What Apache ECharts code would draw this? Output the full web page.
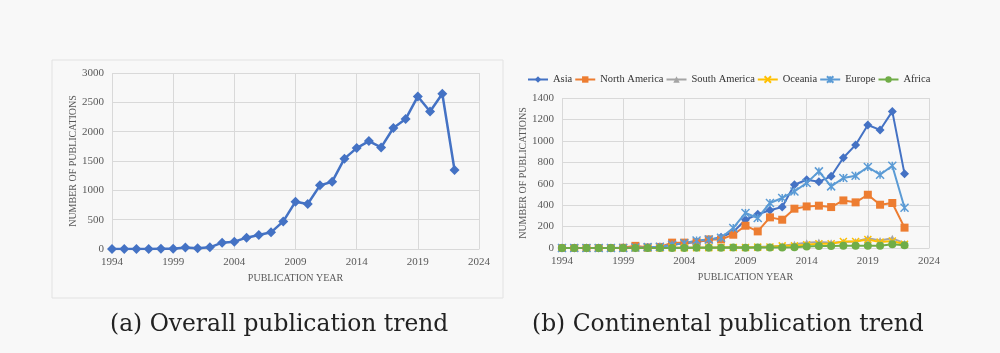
<!DOCTYPE html>
<html>
<head>
<meta charset="utf-8">
<script src="https://cdn.jsdelivr.net/npm/echarts@6/dist/echarts.min.js"></script>
<style>
  html, body { margin: 0; padding: 0; background: #f8f8f8; }
  #chart { width: 1000px; height: 353px; }
</style>
</head>
<body>
<div id="chart"></div>
<script>
// year categories (axis runs to 2024, data ends 2022)
const years = ['1994','1995','1996','1997','1998','1999','2000','2001','2002','2003',
  '2004','2005','2006','2007','2008','2009','2010','2011','2012','2013',
  '2014','2015','2016','2017','2018','2019','2020','2021','2022','2023','2024']

// (a) overall publications per year
const totals = [0,0,0,0,3,5,25,12,28,108,125,193,240,284,470,806,767,1085,1147,1540,1720,1840,1732,2062,2215,2600,2345,2647,1346]

// (b) publications per continent
const asia = [0,0,0,0,0,2,3,5,8,30,45,55,75,100,150,264,315,352,382,590,637,619,669,842,962,1148,1102,1275,692]
const northAmerica = [0,0,0,0,0,2,20,5,10,50,50,55,80,80,124,208,155,286,264,367,388,395,382,444,426,497,404,420,190]
const southAmerica = [0,0,0,0,0,0,0,0,2,3,5,5,5,8,10,8,10,15,20,35,50,55,50,55,60,90,70,90,45]
const oceania = [0,0,0,0,0,0,0,0,0,2,2,3,3,5,5,5,8,10,20,20,30,40,40,60,60,80,55,65,35]
const europe = [0,0,0,0,0,0,5,8,12,30,45,70,80,95,187,327,280,420,467,528,607,715,575,653,675,756,684,768,375]
const africa = [0,0,0,0,0,0,0,0,0,0,0,2,2,3,5,3,5,5,5,8,15,18,18,20,22,22,22,35,25]

const captions = ['(a) Overall publication trend', '(b) Continental publication trend']

const font = 'Liberation Serif'
const captionFont = 'DejaVu Serif'
const gridColor = '#d9d9d9'
const labelColor = '#595959'

const xAxisBase = (gridIndex) => ({
  type: 'category',
  gridIndex,
  data: years,
  boundaryGap: false,
  name: 'PUBLICATION YEAR',
  nameLocation: 'middle',
  nameGap: 24,
  nameTextStyle: { fontFamily: font, fontSize: 10, color: labelColor },
  axisLine: { lineStyle: { color: gridColor } },
  axisTick: { show: false, interval: 4 },
  axisLabel: { interval: 4, fontFamily: font, fontSize: 11, color: labelColor, margin: 8 },
  splitLine: { show: true, interval: 4, lineStyle: { color: gridColor } }
})

const yAxisBase = (gridIndex, max, interval, gap) => ({
  type: 'value',
  gridIndex,
  min: 0,
  max,
  interval,
  name: 'NUMBER OF PUBLICATIONS',
  nameLocation: 'middle',
  nameGap: gap,
  nameTextStyle: { fontFamily: font, fontSize: 10, color: labelColor },
  axisLine: { show: false },
  axisTick: { show: false },
  axisLabel: { fontFamily: font, fontSize: 11, color: labelColor, margin: 8, formatter: v => String(v) },
  splitLine: { lineStyle: { color: gridColor } }
})

// small helper for the continental series
const contSeries = (name, data, color, symbol, size, stroked) => ({
  name,
  type: 'line',
  xAxisIndex: 1,
  yAxisIndex: 1,
  data,
  symbol,
  symbolSize: size,
  showAllSymbol: true,
  lineStyle: { color, width: 2 },
  itemStyle: stroked
    ? { color, borderColor: color, borderWidth: 1.5 }
    : { color },
  emphasis: { disabled: true }
})

const xPath = 'path://M0 0L10 10M10 0L0 10'
const starPath = 'path://M0 0L10 10M10 0L0 10M5 0L5 10'

const chart = echarts.init(document.getElementById('chart'))
chart.setOption({
  backgroundColor: '#f8f8f8',
  animation: false,
  graphic: [{
    type: 'rect',
    shape: { x: 52, y: 60, width: 451, height: 238 },
    style: { fill: 'none', stroke: '#e2e2e2', lineWidth: 1 },
    silent: true
  }],
  title: [
    { text: captions[0], left: 105, top: 308, textStyle: { fontFamily: captionFont, fontSize: 23.4, fontWeight: 'normal', color: '#222' } },
    { text: captions[1], left: 527, top: 308, textStyle: { fontFamily: captionFont, fontSize: 23.4, fontWeight: 'normal', color: '#222' } }
  ],
  legend: {
    data: ['Asia', 'North America', 'South America', 'Oceania', 'Europe', 'Africa'],
    left: 522,
    top: 69,
    itemWidth: 20,
    itemHeight: 8,
    itemGap: 2,
    textStyle: { fontFamily: font, fontSize: 10.5, color: '#333' }
  },
  grid: [
    { left: 112, top: 73, width: 367, height: 176 },
    { left: 562, top: 98, width: 367, height: 150 }
  ],
  xAxis: [xAxisBase(0), xAxisBase(1)],
  yAxis: [yAxisBase(0, 3000, 500, 30), yAxisBase(1, 1400, 200, 31)],
  series: [
    {
      name: 'Total',
      type: 'line',
      xAxisIndex: 0,
      yAxisIndex: 0,
      data: totals,
      symbol: 'diamond',
      symbolSize: 10,
      showAllSymbol: true,
      lineStyle: { color: '#4472c4', width: 2.5 },
      itemStyle: { color: '#4472c4' }
    },
    contSeries('Asia', asia, '#4472c4', 'diamond', 9, false),
    contSeries('North America', northAmerica, '#ed7d31', 'rect', 8, false),
    contSeries('South America', southAmerica, '#a5a5a5', 'triangle', 7, false),
    contSeries('Oceania', oceania, '#ffc000', xPath, 7, true),
    contSeries('Europe', europe, '#5b9bd5', starPath, 8, true),
    contSeries('Africa', africa, '#70ad47', 'circle', 8, false)
  ]
})
</script>
</body>
</html>
